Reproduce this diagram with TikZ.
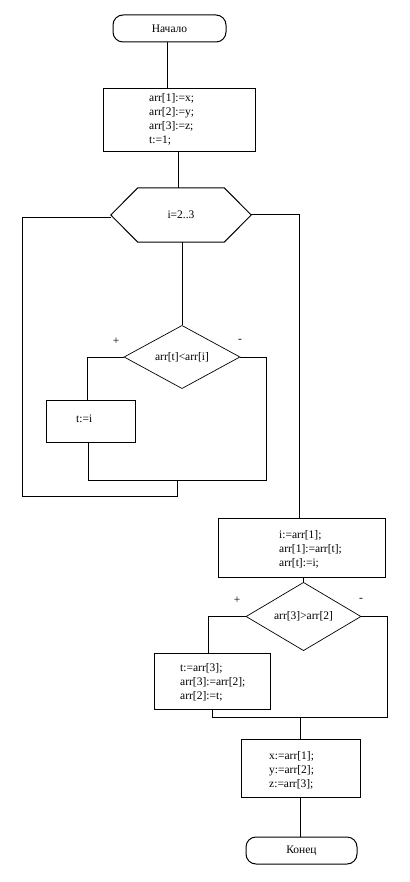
\documentclass[tikz,border=0pt]{standalone}
\usepackage{fontspec}
\setmainfont{Liberation Serif}
\usetikzlibrary{shapes.geometric}

\tikzset{
    every node/.style={font=\fontsize{11.5}{14}\selectfont},
    term/.style={draw, line width=1pt, rounded corners=10pt, inner sep=0pt},
    block/.style={draw, line width=1pt, inner sep=0pt},
    cond/.style={diamond, draw, line width=0.7pt, inner sep=0pt},
    lines/.style={align=left, inner sep=0pt, anchor=west},
    conn/.style={line width=1pt}
}

\begin{document}
\begin{tikzpicture}[x=1pt, y=-1pt]
    \useasboundingbox (0,0) rectangle (409,882);
    % start and first assignments
    \node[term, minimum width=113, minimum height=27] (start) at (169.5,28.5) {Начало};
    \node[block, minimum width=152, minimum height=63] (init) at (179,120.5) {};
    \node[lines] (init-t) at (149,119) {arr[1]:=x;\\arr[2]:=y;\\arr[3]:=z;\\t:=1;};
    % loop header
    \node[minimum width=140, minimum height=54, inner sep=0pt] (loop) at (181,215) {i=2..3};
    \draw[conn] (loop.west) -- ([xshift=27]loop.north west) -- ([xshift=-27]loop.north east)
        -- (loop.east) -- ([xshift=-27]loop.south east) -- ([xshift=27]loop.south west) -- cycle;
    % loop body
    \node[cond, minimum width=116, minimum height=58] (cmp1) at (182,357) {arr[t]<arr[i]};
    \node (plus1) at (116,341) {+};
    \node (minus1) at (240,341) {-};
    \node[block, minimum width=89, minimum height=42] (sett) at (90.5,421) {};
    \node[lines] (sett-t) at (76,419) {t:=i};
    % swap first and max
    \node[block, minimum width=167, minimum height=59] (swap) at (301.5,547.5) {};
    \node[lines] (swap-t) at (279,549) {i:=arr[1];\\arr[1]:=arr[t];\\arr[t]:=i;};
    \node[cond, minimum width=115, minimum height=57] (cmp2) at (303.5,616.5) {arr[3]>arr[2]};
    \node (plus2) at (237,600) {+};
    \node (minus2) at (361,600) {-};
    \node[block, minimum width=116, minimum height=56] (swap3) at (212,681) {};
    \node[lines] (swap3-t) at (180,682) {t:=arr[3];\\arr[3]:=arr[2];\\arr[2]:=t;};
    % output and end
    \node[block, minimum width=119, minimum height=58] (out) at (300.5,768) {};
    \node[lines] (out-t) at (269,770) {x:=arr[1];\\y:=arr[2];\\z:=arr[3];};
    \node[term, minimum width=111, minimum height=27] (stop) at (301.5,850.5) {Конец};

    % bend points
    \coordinate (m1) at (177,480);
    \coordinate (m1r) at (266,480);
    \coordinate (back) at (22,496);
    \coordinate (m2) at (300,717);
    \coordinate (m2r) at (387,717);

    % connectors
    \draw[conn] ([xshift=-2.5]start.south) -- ([xshift=-2.5]start.south |- init.north);
    \draw[conn] ([xshift=-1]init.south) -- ([xshift=-1]init.south |- loop.north);
    \draw[conn] (cmp1.north |- loop.south) -- (cmp1.north);
    \draw[conn] (cmp1.west) -| ([xshift=-3.5]sett.north);
    \draw[conn] ([xshift=-2.5]sett.south) |- (m1r) |- (cmp1.east);
    \draw[conn] (m1) |- (back) |- ([yshift=-3]loop.west);
    \draw[conn] (loop.east) -| ([xshift=-2.5]swap.north);
    \draw[conn] (swap.south -| cmp2.north) -- (cmp2.north);
    \draw[conn] (cmp2.west) -| ([xshift=-4]swap3.north);
    \draw[conn] (swap3.south) |- (m2r) |- (cmp2.east);
    \draw[conn] (m2) -- (m2 |- out.north);
    \draw[conn] (out.south) -- (out.south |- stop.north);
\end{tikzpicture}
\end{document}
